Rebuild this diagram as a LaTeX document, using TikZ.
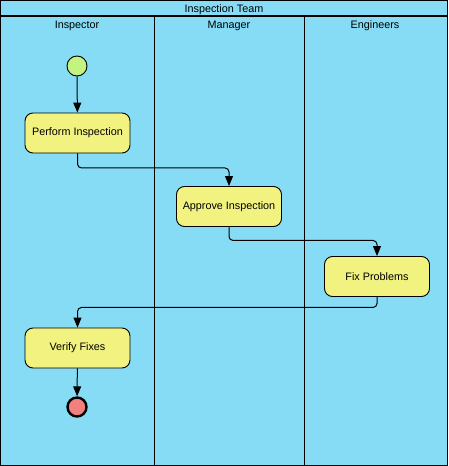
\documentclass[tikz,border=0pt]{standalone}
\usepackage{fontspec}
\setmainfont{Liberation Sans}
\usetikzlibrary{arrows.meta}
\definecolor{lanebg}{HTML}{86DCF5}
\definecolor{actfill}{HTML}{F1F27F}
\definecolor{startfill}{HTML}{C3F47F}
\definecolor{endfill}{HTML}{F47F7F}
\tikzset{%
  act/.style={draw,rounded corners=8pt,fill=actfill,minimum width=105pt,minimum height=40pt,inner sep=0,line width=0.9pt,font=\fontsize{10.8}{12}\selectfont},
  startdot/.style={draw,shape=circle,fill=startfill,minimum size=20pt,inner sep=0,line width=0.9pt},
  enddot/.style={draw,shape=circle,fill=endfill,minimum size=19pt,inner sep=0,line width=2.4pt},
  lanelbl/.style={font=\fontsize{10.8}{12}\selectfont,inner sep=0},
  flow/.style={draw,line width=1pt,rounded corners=4pt,-{Triangle[width=8pt,length=10pt]}}
}
\begin{document}
\begin{tikzpicture}[x=1pt,y=-1pt]
      \useasboundingbox (0,0) rectangle (448,466);
      \fill[lanebg] (0,0) rectangle (448,466);
      \draw[line width=1pt] (0.5,0.5) rectangle (447.5,465.5);
      \draw[line width=1.6pt] (0,16) -- (448,16);
      \draw[line width=1pt] (154,16) -- (154,466);
      \draw[line width=1pt] (304,16) -- (304,466);
      \path
        (224,9.5) node (team)[lanelbl]{Inspection Team}
        (77,26) node (l_insp)[lanelbl]{Inspector}
        (229,26) node (l_mgr)[lanelbl]{Manager}
        (375,26) node (l_eng)[lanelbl]{Engineers};
      \path
        (77,66) node (start)[startdot]{}
        (77.5,133) node (perf)[act]{Perform Inspection}
        (229,206.5) node (appr)[act]{Approve Inspection}
        (377,276.5) node (fix)[act]{Fix Problems}
        (77.5,348) node (verif)[act]{Verify Fixes}
        (77,407) node (stop)[enddot]{};
      \draw[flow] (start) -- (perf);
      \draw[flow] (perf.south) -- ++(0,14.5) -| (appr.north);
      \draw[flow] (appr.south) -- ++(0,13.5) -| (fix.north);
      \draw[flow] (fix.south) -- ++(0,10.5) -| (verif.north);
      \draw[flow] (verif) -- (stop);
    \end{tikzpicture}
\end{document}
